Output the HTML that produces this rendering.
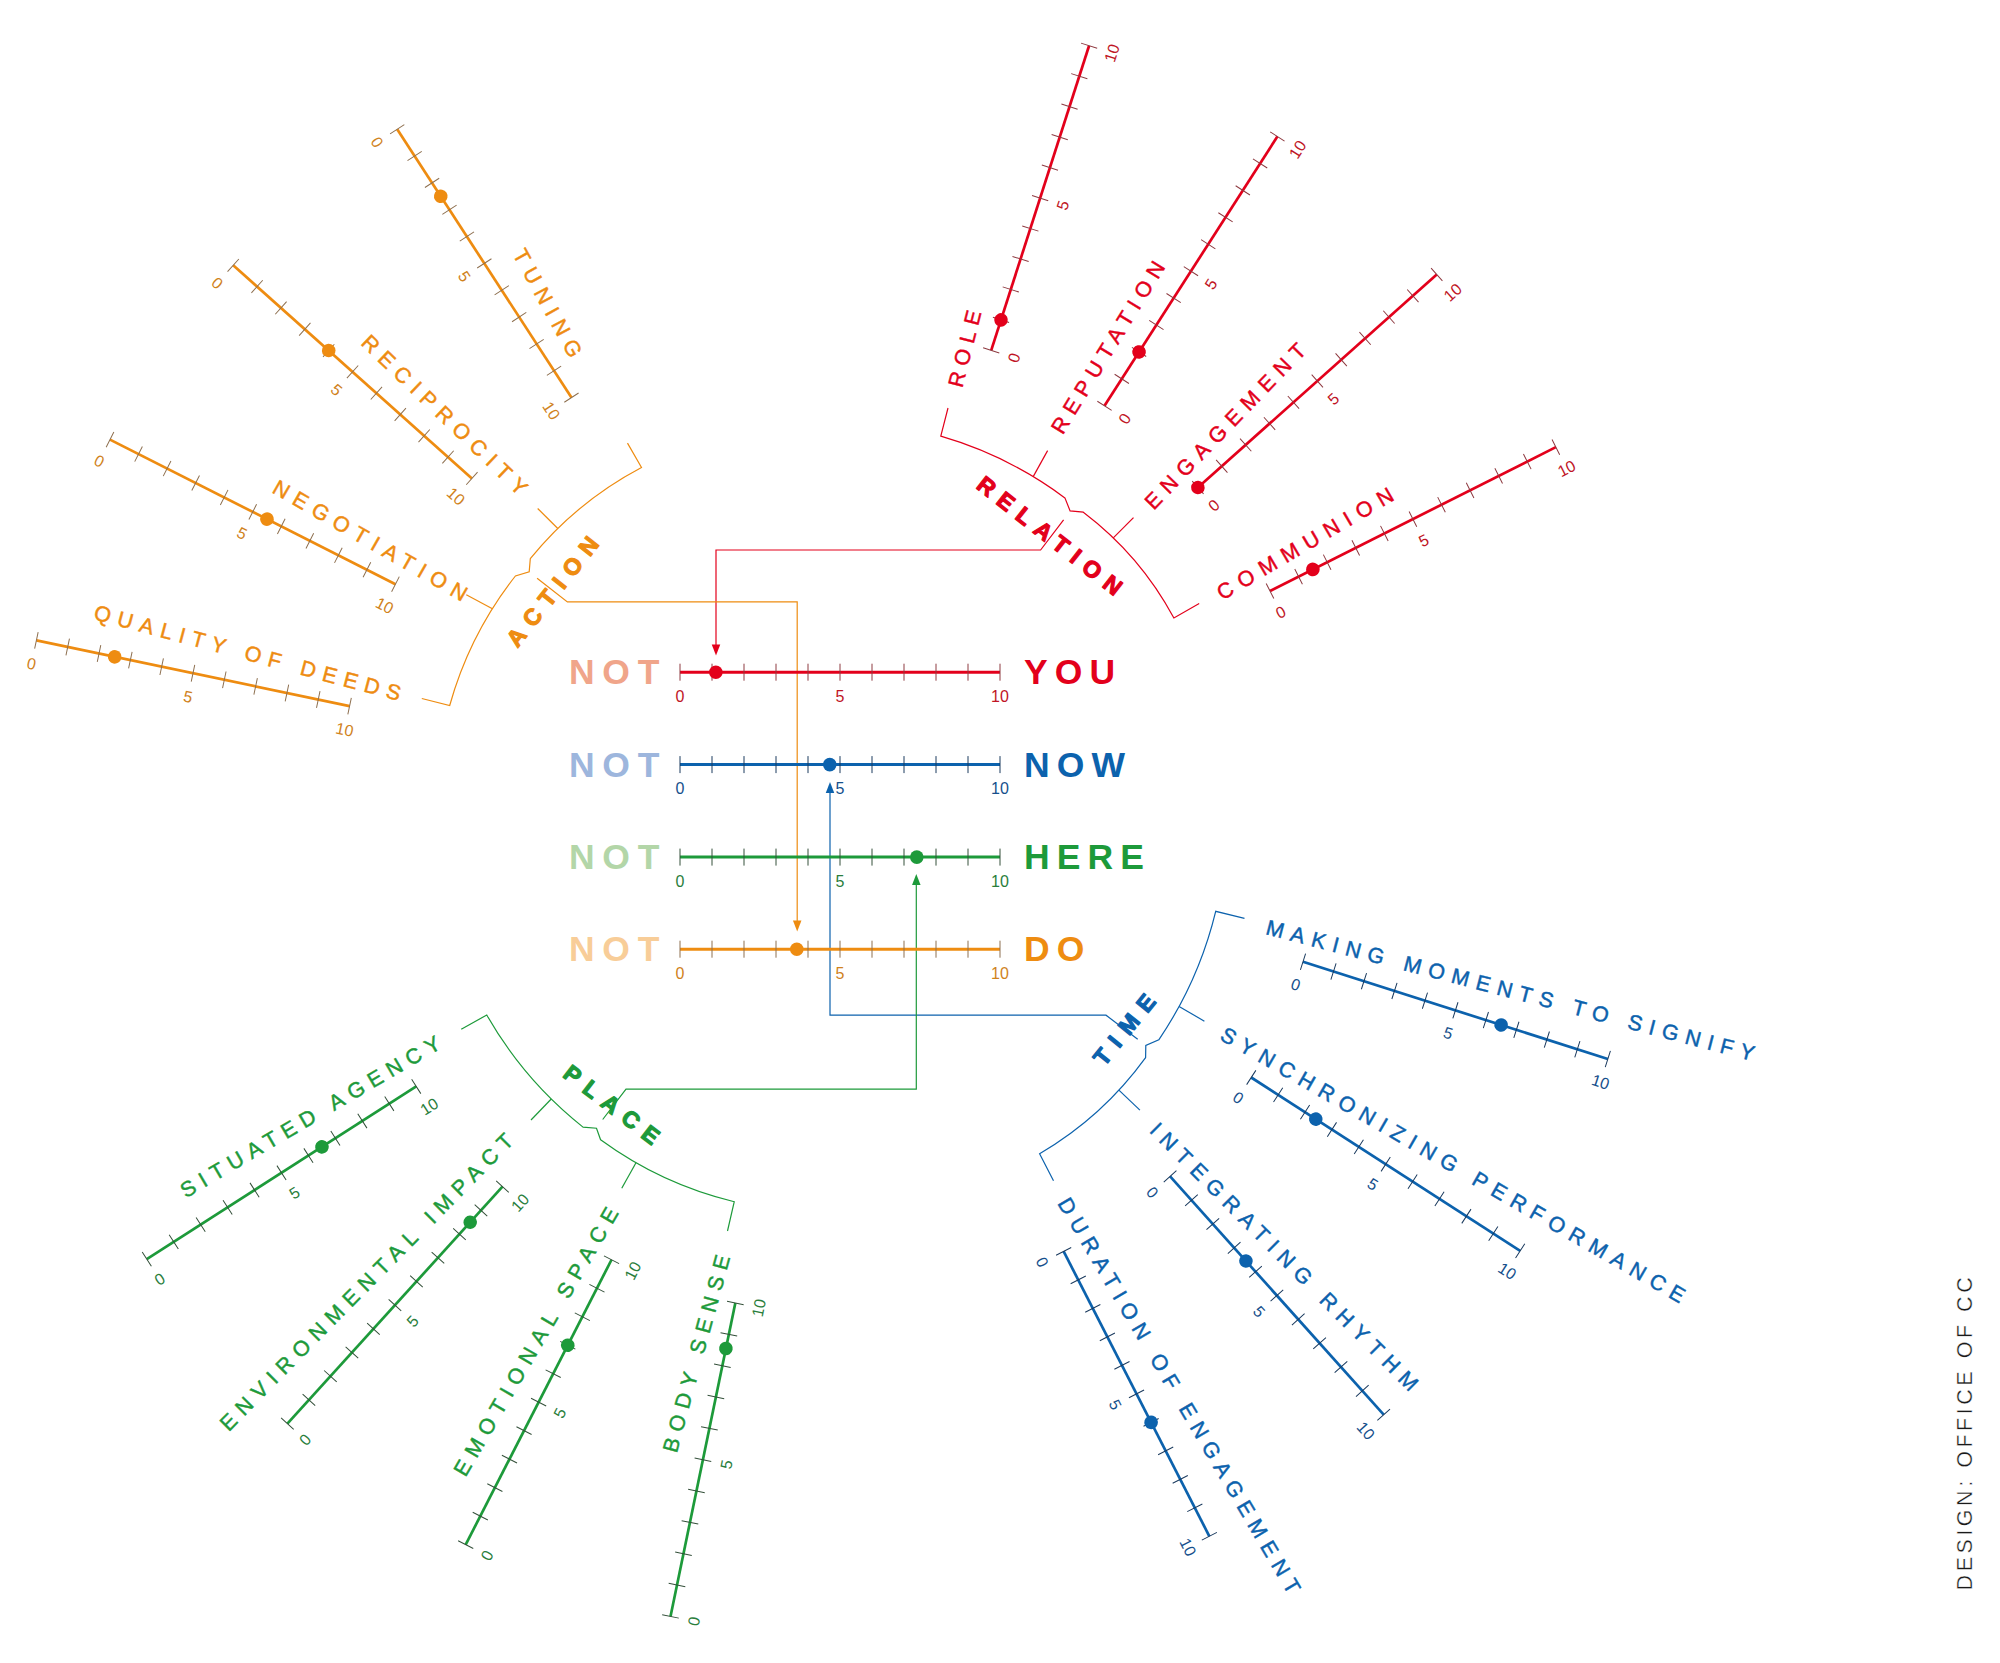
<!DOCTYPE html>
<html><head><meta charset="utf-8"><style>
html,body{margin:0;padding:0;background:#fff;}
body{width:2000px;height:1663px;overflow:hidden;}
svg{display:block;font-family:"Liberation Sans",sans-serif;}
</style></head><body>
<svg width="2000" height="1663" viewBox="0 0 2000 1663">
<rect width="2000" height="1663" fill="#fff"/>
<path d="M1063.6 519.8 L1040.6 550 L716 550 L716 650" fill="none" stroke="#e3001b" stroke-width="1.2"/>
<path d="M716 655.5 L711.75 644.5 L720.25 644.5 Z" fill="#e3001b"/>
<path d="M537.1 578.2 L567.4 601.9 L797.2 601.9 L797.2 925" fill="none" stroke="#ee8c11" stroke-width="1.2"/>
<path d="M797.2 931.5 L792.95 920.5 L801.45 920.5 Z" fill="#ee8c11"/>
<path d="M1137.7 1039.3 L1106 1015.2 L830 1015.2 L830 788" fill="none" stroke="#0c62ad" stroke-width="1.2"/>
<path d="M830 782 L825.75 793 L834.25 793 Z" fill="#0c62ad"/>
<path d="M602.7 1119.5 L626 1089.2 L916.3 1089.2 L916.3 880" fill="none" stroke="#1d9a3a" stroke-width="1.2"/>
<path d="M916.3 874 L912.05 885 L920.55 885 Z" fill="#1d9a3a"/>
<g transform="translate(680 672.2) rotate(0)"><line x1="0" y1="0" x2="320" y2="0" stroke="#e3001b" stroke-width="3.0"/><path d="M0 -8.5V8.5M32 -8.5V8.5M64 -8.5V8.5M96 -8.5V8.5M128 -8.5V8.5M160 -8.5V8.5M192 -8.5V8.5M224 -8.5V8.5M256 -8.5V8.5M288 -8.5V8.5M320 -8.5V8.5" stroke="#8e3a40" stroke-width="1.0" fill="none"/><text x="0" y="29.5" font-size="16" text-anchor="middle" fill="#c01525">0</text><text x="160" y="29.5" font-size="16" text-anchor="middle" fill="#c01525">5</text><text x="320" y="29.5" font-size="16" text-anchor="middle" fill="#c01525">10</text><circle cx="35.84" cy="0" r="6.8" fill="#e3001b"/></g>
<g transform="translate(680 764.6) rotate(0)"><line x1="0" y1="0" x2="320" y2="0" stroke="#0c62ad" stroke-width="3.0"/><path d="M0 -8.5V8.5M32 -8.5V8.5M64 -8.5V8.5M96 -8.5V8.5M128 -8.5V8.5M160 -8.5V8.5M192 -8.5V8.5M224 -8.5V8.5M256 -8.5V8.5M288 -8.5V8.5M320 -8.5V8.5" stroke="#1a3a5e" stroke-width="1.0" fill="none"/><text x="0" y="29.5" font-size="16" text-anchor="middle" fill="#16508c">0</text><text x="160" y="29.5" font-size="16" text-anchor="middle" fill="#16508c">5</text><text x="320" y="29.5" font-size="16" text-anchor="middle" fill="#16508c">10</text><circle cx="149.76" cy="0" r="6.8" fill="#0c62ad"/></g>
<g transform="translate(680 857.1) rotate(0)"><line x1="0" y1="0" x2="320" y2="0" stroke="#1d9a3a" stroke-width="3.0"/><path d="M0 -8.5V8.5M32 -8.5V8.5M64 -8.5V8.5M96 -8.5V8.5M128 -8.5V8.5M160 -8.5V8.5M192 -8.5V8.5M224 -8.5V8.5M256 -8.5V8.5M288 -8.5V8.5M320 -8.5V8.5" stroke="#34503a" stroke-width="1.0" fill="none"/><text x="0" y="29.5" font-size="16" text-anchor="middle" fill="#2a7e3c">0</text><text x="160" y="29.5" font-size="16" text-anchor="middle" fill="#2a7e3c">5</text><text x="320" y="29.5" font-size="16" text-anchor="middle" fill="#2a7e3c">10</text><circle cx="236.8" cy="0" r="6.8" fill="#1d9a3a"/></g>
<g transform="translate(680 949.2) rotate(0)"><line x1="0" y1="0" x2="320" y2="0" stroke="#ee8c11" stroke-width="3.0"/><path d="M0 -8.5V8.5M32 -8.5V8.5M64 -8.5V8.5M96 -8.5V8.5M128 -8.5V8.5M160 -8.5V8.5M192 -8.5V8.5M224 -8.5V8.5M256 -8.5V8.5M288 -8.5V8.5M320 -8.5V8.5" stroke="#8e7050" stroke-width="1.0" fill="none"/><text x="0" y="29.5" font-size="16" text-anchor="middle" fill="#d0821c">0</text><text x="160" y="29.5" font-size="16" text-anchor="middle" fill="#d0821c">5</text><text x="320" y="29.5" font-size="16" text-anchor="middle" fill="#d0821c">10</text><circle cx="116.8" cy="0" r="6.8" fill="#ee8c11"/></g>
<text x="569" y="684.3" font-size="35.5" font-weight="bold" letter-spacing="7.7" fill="#f0a58a">NOT</text>
<text x="1024" y="684.3" font-size="35.5" font-weight="bold" letter-spacing="7.1" fill="#e3001b">YOU</text>
<text x="569" y="776.7" font-size="35.5" font-weight="bold" letter-spacing="7.7" fill="#9db6dd">NOT</text>
<text x="1024" y="776.7" font-size="35.5" font-weight="bold" letter-spacing="7.1" fill="#0c62ad">NOW</text>
<text x="569" y="869.2" font-size="35.5" font-weight="bold" letter-spacing="7.7" fill="#b3d6a8">NOT</text>
<text x="1024" y="869.2" font-size="35.5" font-weight="bold" letter-spacing="7.1" fill="#1d9a3a">HERE</text>
<text x="569" y="961.3" font-size="35.5" font-weight="bold" letter-spacing="7.7" fill="#f8cd98">NOT</text>
<text x="1024" y="961.3" font-size="35.5" font-weight="bold" letter-spacing="7.1" fill="#ee8c11">DO</text>
<g transform="translate(397.2 129.2) rotate(57.01)"><line x1="0" y1="0" x2="320" y2="0" stroke="#ee8c11" stroke-width="2.7"/><path d="M0 -8.5V8.5M32 -8.5V8.5M64 -8.5V8.5M96 -8.5V8.5M128 -8.5V8.5M160 -8.5V8.5M192 -8.5V8.5M224 -8.5V8.5M256 -8.5V8.5M288 -8.5V8.5M320 -8.5V8.5" stroke="#8e7050" stroke-width="1.0" fill="none"/><text x="0" y="29.5" font-size="16" text-anchor="middle" fill="#d0821c">0</text><text x="160" y="29.5" font-size="16" text-anchor="middle" fill="#d0821c">5</text><text x="320" y="29.5" font-size="16" text-anchor="middle" fill="#d0821c">10</text><circle cx="80" cy="0" r="6.8" fill="#ee8c11"/></g>
<g transform="translate(233.2 265.3) rotate(41.76)"><line x1="0" y1="0" x2="320" y2="0" stroke="#ee8c11" stroke-width="2.7"/><path d="M0 -8.5V8.5M32 -8.5V8.5M64 -8.5V8.5M96 -8.5V8.5M128 -8.5V8.5M160 -8.5V8.5M192 -8.5V8.5M224 -8.5V8.5M256 -8.5V8.5M288 -8.5V8.5M320 -8.5V8.5" stroke="#8e7050" stroke-width="1.0" fill="none"/><text x="0" y="29.5" font-size="16" text-anchor="middle" fill="#d0821c">0</text><text x="160" y="29.5" font-size="16" text-anchor="middle" fill="#d0821c">5</text><text x="320" y="29.5" font-size="16" text-anchor="middle" fill="#d0821c">10</text><circle cx="128" cy="0" r="6.8" fill="#ee8c11"/></g>
<g transform="translate(110 439.6) rotate(26.87)"><line x1="0" y1="0" x2="320" y2="0" stroke="#ee8c11" stroke-width="2.7"/><path d="M0 -8.5V8.5M32 -8.5V8.5M64 -8.5V8.5M96 -8.5V8.5M128 -8.5V8.5M160 -8.5V8.5M192 -8.5V8.5M224 -8.5V8.5M256 -8.5V8.5M288 -8.5V8.5M320 -8.5V8.5" stroke="#8e7050" stroke-width="1.0" fill="none"/><text x="0" y="29.5" font-size="16" text-anchor="middle" fill="#d0821c">0</text><text x="160" y="29.5" font-size="16" text-anchor="middle" fill="#d0821c">5</text><text x="320" y="29.5" font-size="16" text-anchor="middle" fill="#d0821c">10</text><circle cx="176" cy="0" r="6.8" fill="#ee8c11"/></g>
<g transform="translate(36.4 640.4) rotate(11.85)"><line x1="0" y1="0" x2="320" y2="0" stroke="#ee8c11" stroke-width="2.7"/><path d="M0 -8.5V8.5M32 -8.5V8.5M64 -8.5V8.5M96 -8.5V8.5M128 -8.5V8.5M160 -8.5V8.5M192 -8.5V8.5M224 -8.5V8.5M256 -8.5V8.5M288 -8.5V8.5M320 -8.5V8.5" stroke="#8e7050" stroke-width="1.0" fill="none"/><text x="0" y="29.5" font-size="16" text-anchor="middle" fill="#d0821c">0</text><text x="160" y="29.5" font-size="16" text-anchor="middle" fill="#d0821c">5</text><text x="320" y="29.5" font-size="16" text-anchor="middle" fill="#d0821c">10</text><circle cx="80" cy="0" r="6.8" fill="#ee8c11"/></g>
<text transform="translate(512.26 254.11) rotate(61.23)" font-size="21.5" font-weight="normal" letter-spacing="7.5" fill="#ee8c11" stroke="#ee8c11" stroke-width="0.45" stroke-linejoin="round">TUNING</text>
<text transform="translate(359.9 344.11) rotate(43.76)" font-size="21.5" font-weight="normal" letter-spacing="7.36" fill="#ee8c11" stroke="#ee8c11" stroke-width="0.45" stroke-linejoin="round">RECIPROCITY</text>
<text transform="translate(270.98 491.94) rotate(29.92)" font-size="21.5" font-weight="normal" letter-spacing="7.39" fill="#ee8c11" stroke="#ee8c11" stroke-width="0.45" stroke-linejoin="round">NEGOTIATION</text>
<text transform="translate(92.81 618.98) rotate(15)" font-size="21.5" font-weight="normal" letter-spacing="7.28" fill="#ee8c11" stroke="#ee8c11" stroke-width="0.45" stroke-linejoin="round">QUALITY OF DEEDS</text>
<path d="M627.5 443.1 L641.5 467.5 A357.77 357.77 0 0 0 530.3 558.7 L529.2 571.7 L515.4 576 A369.96 369.96 0 0 0 449.7 705.5 L421.8 698.5" fill="none" stroke="#ee8c11" stroke-width="1.2" stroke-linejoin="miter"/>
<line x1="557.8" y1="528.5" x2="537.7" y2="508.5" stroke="#ee8c11" stroke-width="1.2"/>
<line x1="492.4" y1="608.7" x2="466.3" y2="594.8" stroke="#ee8c11" stroke-width="1.2"/>
<text transform="translate(517.55 648.61) rotate(-51.59)" font-size="23" font-weight="bold" letter-spacing="8.96" fill="#ee8c11" stroke="#ee8c11" stroke-width="1.2" stroke-linejoin="round">ACTION</text>
<g transform="translate(991.2 350.4) rotate(-72.19)"><line x1="0" y1="0" x2="320" y2="0" stroke="#e3001b" stroke-width="2.7"/><path d="M0 -8.5V8.5M32 -8.5V8.5M64 -8.5V8.5M96 -8.5V8.5M128 -8.5V8.5M160 -8.5V8.5M192 -8.5V8.5M224 -8.5V8.5M256 -8.5V8.5M288 -8.5V8.5M320 -8.5V8.5" stroke="#8e3a40" stroke-width="1.0" fill="none"/><text x="0" y="29.5" font-size="16" text-anchor="middle" fill="#c01525">0</text><text x="160" y="29.5" font-size="16" text-anchor="middle" fill="#c01525">5</text><text x="320" y="29.5" font-size="16" text-anchor="middle" fill="#c01525">10</text><circle cx="32" cy="0" r="6.8" fill="#e3001b"/></g>
<g transform="translate(1104.5 405.8) rotate(-57.3)"><line x1="0" y1="0" x2="320" y2="0" stroke="#e3001b" stroke-width="2.7"/><path d="M0 -8.5V8.5M32 -8.5V8.5M64 -8.5V8.5M96 -8.5V8.5M128 -8.5V8.5M160 -8.5V8.5M192 -8.5V8.5M224 -8.5V8.5M256 -8.5V8.5M288 -8.5V8.5M320 -8.5V8.5" stroke="#8e3a40" stroke-width="1.0" fill="none"/><text x="0" y="29.5" font-size="16" text-anchor="middle" fill="#c01525">0</text><text x="160" y="29.5" font-size="16" text-anchor="middle" fill="#c01525">5</text><text x="320" y="29.5" font-size="16" text-anchor="middle" fill="#c01525">10</text><circle cx="64" cy="0" r="6.8" fill="#e3001b"/></g>
<g transform="translate(1197.9 487.5) rotate(-41.72)"><line x1="0" y1="0" x2="320" y2="0" stroke="#e3001b" stroke-width="2.7"/><path d="M0 -8.5V8.5M32 -8.5V8.5M64 -8.5V8.5M96 -8.5V8.5M128 -8.5V8.5M160 -8.5V8.5M192 -8.5V8.5M224 -8.5V8.5M256 -8.5V8.5M288 -8.5V8.5M320 -8.5V8.5" stroke="#8e3a40" stroke-width="1.0" fill="none"/><text x="0" y="29.5" font-size="16" text-anchor="middle" fill="#c01525">0</text><text x="160" y="29.5" font-size="16" text-anchor="middle" fill="#c01525">5</text><text x="320" y="29.5" font-size="16" text-anchor="middle" fill="#c01525">10</text><circle cx="0" cy="0" r="6.8" fill="#e3001b"/></g>
<g transform="translate(1270 591) rotate(-26.71)"><line x1="0" y1="0" x2="320" y2="0" stroke="#e3001b" stroke-width="2.7"/><path d="M0 -8.5V8.5M32 -8.5V8.5M64 -8.5V8.5M96 -8.5V8.5M128 -8.5V8.5M160 -8.5V8.5M192 -8.5V8.5M224 -8.5V8.5M256 -8.5V8.5M288 -8.5V8.5M320 -8.5V8.5" stroke="#8e3a40" stroke-width="1.0" fill="none"/><text x="0" y="29.5" font-size="16" text-anchor="middle" fill="#c01525">0</text><text x="160" y="29.5" font-size="16" text-anchor="middle" fill="#c01525">5</text><text x="320" y="29.5" font-size="16" text-anchor="middle" fill="#c01525">10</text><circle cx="48" cy="0" r="6.8" fill="#e3001b"/></g>
<text transform="translate(962.26 388.52) rotate(-75.74)" font-size="21.5" font-weight="normal" letter-spacing="6.57" fill="#e3001b" stroke="#e3001b" stroke-width="0.45" stroke-linejoin="round">ROLE</text>
<text transform="translate(1062.87 435.41) rotate(-58.59)" font-size="21.5" font-weight="normal" letter-spacing="6.9" fill="#e3001b" stroke="#e3001b" stroke-width="0.45" stroke-linejoin="round">REPUTATION</text>
<text transform="translate(1153.64 510.7) rotate(-45.94)" font-size="21.5" font-weight="normal" letter-spacing="7.58" fill="#e3001b" stroke="#e3001b" stroke-width="0.45" stroke-linejoin="round">ENGAGEMENT</text>
<text transform="translate(1222.32 600.77) rotate(-30.34)" font-size="21.5" font-weight="normal" letter-spacing="7.9" fill="#e3001b" stroke="#e3001b" stroke-width="0.45" stroke-linejoin="round">COMMUNION</text>
<path d="M948 408 L940.8 436.2 A388.24 388.24 0 0 1 1064.9 497.9 L1070.1 510.9 L1083.3 512.2 A326.8 326.8 0 0 1 1173.9 618 L1199.2 603.6" fill="none" stroke="#e3001b" stroke-width="1.2" stroke-linejoin="miter"/>
<line x1="1033.2" y1="476.6" x2="1047.6" y2="450.6" stroke="#e3001b" stroke-width="1.2"/>
<line x1="1113.3" y1="537.9" x2="1133.5" y2="517.7" stroke="#e3001b" stroke-width="1.2"/>
<text transform="translate(975.16 487.47) rotate(38.11)" font-size="23" font-weight="bold" letter-spacing="8.71" fill="#e3001b" stroke="#e3001b" stroke-width="1.2" stroke-linejoin="round">RELATION</text>
<g transform="translate(1303 961.7) rotate(17.71)"><line x1="0" y1="0" x2="320" y2="0" stroke="#0c62ad" stroke-width="2.7"/><path d="M0 -8.5V8.5M32 -8.5V8.5M64 -8.5V8.5M96 -8.5V8.5M128 -8.5V8.5M160 -8.5V8.5M192 -8.5V8.5M224 -8.5V8.5M256 -8.5V8.5M288 -8.5V8.5M320 -8.5V8.5" stroke="#1a3a5e" stroke-width="1.0" fill="none"/><text x="0" y="29.5" font-size="16" text-anchor="middle" fill="#16508c">0</text><text x="160" y="29.5" font-size="16" text-anchor="middle" fill="#16508c">5</text><text x="320" y="29.5" font-size="16" text-anchor="middle" fill="#16508c">10</text><circle cx="208" cy="0" r="6.8" fill="#0c62ad"/></g>
<g transform="translate(1251.25 1077.5) rotate(32.82)"><line x1="0" y1="0" x2="320" y2="0" stroke="#0c62ad" stroke-width="2.7"/><path d="M0 -8.5V8.5M32 -8.5V8.5M64 -8.5V8.5M96 -8.5V8.5M128 -8.5V8.5M160 -8.5V8.5M192 -8.5V8.5M224 -8.5V8.5M256 -8.5V8.5M288 -8.5V8.5M320 -8.5V8.5" stroke="#1a3a5e" stroke-width="1.0" fill="none"/><text x="0" y="29.5" font-size="16" text-anchor="middle" fill="#16508c">0</text><text x="160" y="29.5" font-size="16" text-anchor="middle" fill="#16508c">5</text><text x="320" y="29.5" font-size="16" text-anchor="middle" fill="#16508c">10</text><circle cx="76.8" cy="0" r="6.8" fill="#0c62ad"/></g>
<g transform="translate(1170.1 1176.4) rotate(48.13)"><line x1="0" y1="0" x2="320" y2="0" stroke="#0c62ad" stroke-width="2.7"/><path d="M0 -8.5V8.5M32 -8.5V8.5M64 -8.5V8.5M96 -8.5V8.5M128 -8.5V8.5M160 -8.5V8.5M192 -8.5V8.5M224 -8.5V8.5M256 -8.5V8.5M288 -8.5V8.5M320 -8.5V8.5" stroke="#1a3a5e" stroke-width="1.0" fill="none"/><text x="0" y="29.5" font-size="16" text-anchor="middle" fill="#16508c">0</text><text x="160" y="29.5" font-size="16" text-anchor="middle" fill="#16508c">5</text><text x="320" y="29.5" font-size="16" text-anchor="middle" fill="#16508c">10</text><circle cx="113.6" cy="0" r="6.8" fill="#0c62ad"/></g>
<g transform="translate(1063.65 1251.4) rotate(62.91)"><line x1="0" y1="0" x2="320" y2="0" stroke="#0c62ad" stroke-width="2.7"/><path d="M0 -8.5V8.5M32 -8.5V8.5M64 -8.5V8.5M96 -8.5V8.5M128 -8.5V8.5M160 -8.5V8.5M192 -8.5V8.5M224 -8.5V8.5M256 -8.5V8.5M288 -8.5V8.5M320 -8.5V8.5" stroke="#1a3a5e" stroke-width="1.0" fill="none"/><text x="0" y="29.5" font-size="16" text-anchor="middle" fill="#16508c">0</text><text x="160" y="29.5" font-size="16" text-anchor="middle" fill="#16508c">5</text><text x="320" y="29.5" font-size="16" text-anchor="middle" fill="#16508c">10</text><circle cx="192" cy="0" r="6.8" fill="#0c62ad"/></g>
<text transform="translate(1264.67 934) rotate(14.61)" font-size="21.5" font-weight="normal" letter-spacing="7.35" fill="#0c62ad" stroke="#0c62ad" stroke-width="0.45" stroke-linejoin="round">MAKING MOMENTS TO SIGNIFY</text>
<text transform="translate(1218.85 1039.1) rotate(29.85)" font-size="21.5" font-weight="normal" letter-spacing="7.41" fill="#0c62ad" stroke="#0c62ad" stroke-width="0.45" stroke-linejoin="round">SYNCHRONIZING PERFORMANCE</text>
<text transform="translate(1148.46 1131.52) rotate(45)" font-size="21.5" font-weight="normal" letter-spacing="7.39" fill="#0c62ad" stroke="#0c62ad" stroke-width="0.45" stroke-linejoin="round">INTEGRATING RHYTHM</text>
<text transform="translate(1057.1 1203.26) rotate(59.44)" font-size="21.5" font-weight="normal" letter-spacing="7.15" fill="#0c62ad" stroke="#0c62ad" stroke-width="0.45" stroke-linejoin="round">DURATION OF ENGAGEMENT</text>
<path d="M1244.5 918.3 L1215.7 911.3 A395.23 395.23 0 0 1 1158.8 1039.8 L1145.8 1045.4 L1145.6 1057.6 A347.93 347.93 0 0 1 1039.6 1153.7 L1053.5 1180.7" fill="none" stroke="#0c62ad" stroke-width="1.2" stroke-linejoin="miter"/>
<line x1="1179.1" y1="1006.4" x2="1204.4" y2="1021.2" stroke="#0c62ad" stroke-width="1.2"/>
<line x1="1118.9" y1="1090.1" x2="1139.9" y2="1110.1" stroke="#0c62ad" stroke-width="1.2"/>
<text transform="translate(1104.14 1067.34) rotate(-51.08)" font-size="23" font-weight="bold" letter-spacing="9.62" fill="#0c62ad" stroke="#0c62ad" stroke-width="1.2" stroke-linejoin="round">TIME</text>
<g transform="translate(146.8 1259.1) rotate(-32.65)"><line x1="0" y1="0" x2="320" y2="0" stroke="#1d9a3a" stroke-width="2.7"/><path d="M0 -8.5V8.5M32 -8.5V8.5M64 -8.5V8.5M96 -8.5V8.5M128 -8.5V8.5M160 -8.5V8.5M192 -8.5V8.5M224 -8.5V8.5M256 -8.5V8.5M288 -8.5V8.5M320 -8.5V8.5" stroke="#34503a" stroke-width="1.0" fill="none"/><text x="0" y="29.5" font-size="16" text-anchor="middle" fill="#2a7e3c">0</text><text x="160" y="29.5" font-size="16" text-anchor="middle" fill="#2a7e3c">5</text><text x="320" y="29.5" font-size="16" text-anchor="middle" fill="#2a7e3c">10</text><circle cx="208" cy="0" r="6.8" fill="#1d9a3a"/></g>
<g transform="translate(287.4 1423.6) rotate(-47.77)"><line x1="0" y1="0" x2="320" y2="0" stroke="#1d9a3a" stroke-width="2.7"/><path d="M0 -8.5V8.5M32 -8.5V8.5M64 -8.5V8.5M96 -8.5V8.5M128 -8.5V8.5M160 -8.5V8.5M192 -8.5V8.5M224 -8.5V8.5M256 -8.5V8.5M288 -8.5V8.5M320 -8.5V8.5" stroke="#34503a" stroke-width="1.0" fill="none"/><text x="0" y="29.5" font-size="16" text-anchor="middle" fill="#2a7e3c">0</text><text x="160" y="29.5" font-size="16" text-anchor="middle" fill="#2a7e3c">5</text><text x="320" y="29.5" font-size="16" text-anchor="middle" fill="#2a7e3c">10</text><circle cx="272" cy="0" r="6.8" fill="#1d9a3a"/></g>
<g transform="translate(465.7 1544.6) rotate(-62.89)"><line x1="0" y1="0" x2="320" y2="0" stroke="#1d9a3a" stroke-width="2.7"/><path d="M0 -8.5V8.5M32 -8.5V8.5M64 -8.5V8.5M96 -8.5V8.5M128 -8.5V8.5M160 -8.5V8.5M192 -8.5V8.5M224 -8.5V8.5M256 -8.5V8.5M288 -8.5V8.5M320 -8.5V8.5" stroke="#34503a" stroke-width="1.0" fill="none"/><text x="0" y="29.5" font-size="16" text-anchor="middle" fill="#2a7e3c">0</text><text x="160" y="29.5" font-size="16" text-anchor="middle" fill="#2a7e3c">5</text><text x="320" y="29.5" font-size="16" text-anchor="middle" fill="#2a7e3c">10</text><circle cx="224" cy="0" r="6.8" fill="#1d9a3a"/></g>
<g transform="translate(670.5 1616.4) rotate(-78.31)"><line x1="0" y1="0" x2="320" y2="0" stroke="#1d9a3a" stroke-width="2.7"/><path d="M0 -8.5V8.5M32 -8.5V8.5M64 -8.5V8.5M96 -8.5V8.5M128 -8.5V8.5M160 -8.5V8.5M192 -8.5V8.5M224 -8.5V8.5M256 -8.5V8.5M288 -8.5V8.5M320 -8.5V8.5" stroke="#34503a" stroke-width="1.0" fill="none"/><text x="0" y="29.5" font-size="16" text-anchor="middle" fill="#2a7e3c">0</text><text x="160" y="29.5" font-size="16" text-anchor="middle" fill="#2a7e3c">5</text><text x="320" y="29.5" font-size="16" text-anchor="middle" fill="#2a7e3c">10</text><circle cx="273.6" cy="0" r="6.8" fill="#1d9a3a"/></g>
<text transform="translate(185.66 1198.41) rotate(-30.41)" font-size="21.5" font-weight="normal" letter-spacing="6.95" fill="#1d9a3a" stroke="#1d9a3a" stroke-width="0.45" stroke-linejoin="round">SITUATED AGENCY</text>
<text transform="translate(228.84 1432.2) rotate(-45.4)" font-size="21.5" font-weight="normal" letter-spacing="7.31" fill="#1d9a3a" stroke="#1d9a3a" stroke-width="0.45" stroke-linejoin="round">ENVIRONMENTAL IMPACT</text>
<text transform="translate(465.59 1477.78) rotate(-59.9)" font-size="21.5" font-weight="normal" letter-spacing="7.36" fill="#1d9a3a" stroke="#1d9a3a" stroke-width="0.45" stroke-linejoin="round">EMOTIONAL SPACE</text>
<text transform="translate(676.66 1453.67) rotate(-74.7)" font-size="21.5" font-weight="normal" letter-spacing="7.11" fill="#1d9a3a" stroke="#1d9a3a" stroke-width="0.45" stroke-linejoin="round">BODY SENSE</text>
<path d="M461.25 1029.25 L486.75 1015 A388.19 388.19 0 0 0 583 1127.1 L596.5 1128.2 L600.6 1139.8 A375.73 375.73 0 0 0 734.25 1201.75 L727.5 1231" fill="none" stroke="#1d9a3a" stroke-width="1.2" stroke-linejoin="miter"/>
<line x1="551.25" y1="1099" x2="531" y2="1120" stroke="#1d9a3a" stroke-width="1.2"/>
<line x1="636" y1="1162.75" x2="621.75" y2="1188.25" stroke="#1d9a3a" stroke-width="1.2"/>
<text transform="translate(561.8 1076.37) rotate(37.57)" font-size="23" font-weight="bold" letter-spacing="8.96" fill="#1d9a3a" stroke="#1d9a3a" stroke-width="1.2" stroke-linejoin="round">PLACE</text>
<text transform="translate(1971.6 1590.43) rotate(-90)" font-size="21.5" font-weight="normal" letter-spacing="3.53" fill="#1a1a1a" stroke="#fff" stroke-width="0.35">DESIGN: OFFICE OF CC</text>
</svg></body></html>
